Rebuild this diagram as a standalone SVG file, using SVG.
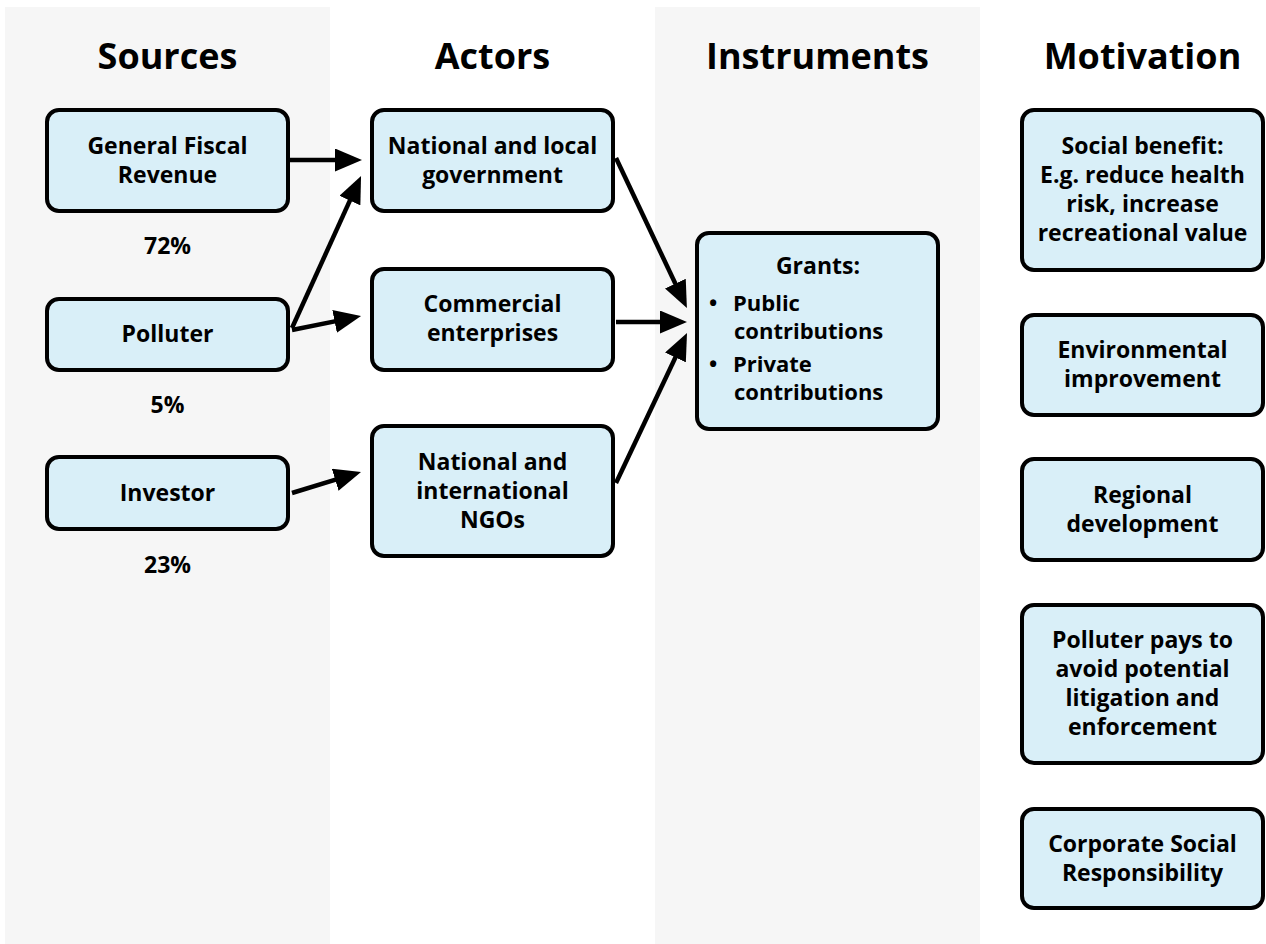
<svg xmlns="http://www.w3.org/2000/svg" width="1266" height="944" viewBox="0 0 1266 944">
<style>
.panel{fill:#f6f6f6}
.box{fill:#d9eff8;stroke:#000;stroke-width:4}
text{font-family:"Open Sans","DejaVu Sans",sans-serif;font-weight:700;fill:#000}
.h{font-size:36px;text-anchor:middle}
.t{font-size:23px;text-anchor:middle}
.l{font-size:22px}
.conn{stroke:#000;stroke-width:4.5;fill:none;marker-end:url(#ah)}
</style>
<defs>
<marker id="ah" markerUnits="userSpaceOnUse" viewBox="0 0 27 23" markerWidth="27" markerHeight="23" refX="9" refY="11.5" orient="auto">
<path d="M0,0 L27,11.5 L0,23 z" fill="#000"/>
</marker>
</defs>
<rect class="panel" x="5" y="7" width="325" height="937"/>
<rect class="panel" x="655" y="7" width="325" height="937"/>
<g id="headings">
<text class="h" x="167.5" y="69">Sources</text>
<text class="h" x="492.5" y="69">Actors</text>
<text class="h" x="817.5" y="69">Instruments</text>
<text class="h" x="1142.5" y="69">Motivation</text>
</g>
<g id="connectors">
<path class="conn" d="M290,160 L344,160"/>
<path class="conn" d="M292,328 L353.6,192.4"/>
<path class="conn" d="M292,330 L343.4,319.6"/>
<path class="conn" d="M292,493 L343.8,477.2"/>
<path class="conn" d="M616,158 L679.2,291.8"/>
<path class="conn" d="M616,322 L669,322"/>
<path class="conn" d="M616,483 L679.3,349.3"/>
</g>
<g id="src-fiscal">
<rect class="box" x="47" y="110" width="241" height="101" rx="12"/>
<text class="t" x="167.5" y="154">General Fiscal</text>
<text class="t" x="167.5" y="183">Revenue</text>
</g>
<g id="pct-72"><text class="t" x="167.5" y="254">72%</text></g>
<g id="src-polluter">
<rect class="box" x="47" y="299" width="241" height="71" rx="12"/>
<text class="t" x="167.5" y="342">Polluter</text>
</g>
<g id="pct-5"><text class="t" x="167.5" y="413">5%</text></g>
<g id="src-investor">
<rect class="box" x="47" y="457" width="241" height="72" rx="12"/>
<text class="t" x="167.5" y="501">Investor</text>
</g>
<g id="pct-23"><text class="t" x="167.5" y="573">23%</text></g>
<g id="act-gov">
<rect class="box" x="372" y="110" width="241" height="101" rx="12"/>
<text class="t" x="492.5" y="154">National and local</text>
<text class="t" x="492.5" y="183">government</text>
</g>
<g id="act-commercial">
<rect class="box" x="372" y="269" width="241" height="101" rx="12"/>
<text class="t" x="492.5" y="312">Commercial</text>
<text class="t" x="492.5" y="341">enterprises</text>
</g>
<g id="act-ngo">
<rect class="box" x="372" y="426" width="241" height="130" rx="12"/>
<text class="t" x="492.5" y="470">National and</text>
<text class="t" x="492.5" y="499">international</text>
<text class="t" x="492.5" y="528">NGOs</text>
</g>
<g id="inst-grants">
<rect class="box" x="697" y="233" width="241" height="196" rx="12"/>
<text class="t" x="818" y="274">Grants:</text>
<text class="l" x="709" y="311">•</text>
<text class="l" x="733" y="311">Public</text>
<text class="l" x="734" y="339">contributions</text>
<text class="l" x="709" y="372">•</text>
<text class="l" x="733" y="372">Private</text>
<text class="l" x="734" y="400">contributions</text>
</g>
<g id="mot-social">
<rect class="box" x="1022" y="110" width="241" height="160" rx="12"/>
<text class="t" x="1142.5" y="154">Social benefit:</text>
<text class="t" x="1142.5" y="183">E.g. reduce health</text>
<text class="t" x="1142.5" y="212">risk, increase</text>
<text class="t" x="1142.5" y="241">recreational value</text>
</g>
<g id="mot-env">
<rect class="box" x="1022" y="315" width="241" height="100" rx="12"/>
<text class="t" x="1142.5" y="358">Environmental</text>
<text class="t" x="1142.5" y="387">improvement</text>
</g>
<g id="mot-regional">
<rect class="box" x="1022" y="459" width="241" height="101" rx="12"/>
<text class="t" x="1142.5" y="503">Regional</text>
<text class="t" x="1142.5" y="532">development</text>
</g>
<g id="mot-polluter">
<rect class="box" x="1022" y="605" width="241" height="158" rx="12"/>
<text class="t" x="1142.5" y="648">Polluter pays to</text>
<text class="t" x="1142.5" y="677">avoid potential</text>
<text class="t" x="1142.5" y="706">litigation and</text>
<text class="t" x="1142.5" y="735">enforcement</text>
</g>
<g id="mot-csr">
<rect class="box" x="1022" y="809" width="241" height="99" rx="12"/>
<text class="t" x="1142.5" y="852">Corporate Social</text>
<text class="t" x="1142.5" y="881">Responsibility</text>
</g>
</svg>
